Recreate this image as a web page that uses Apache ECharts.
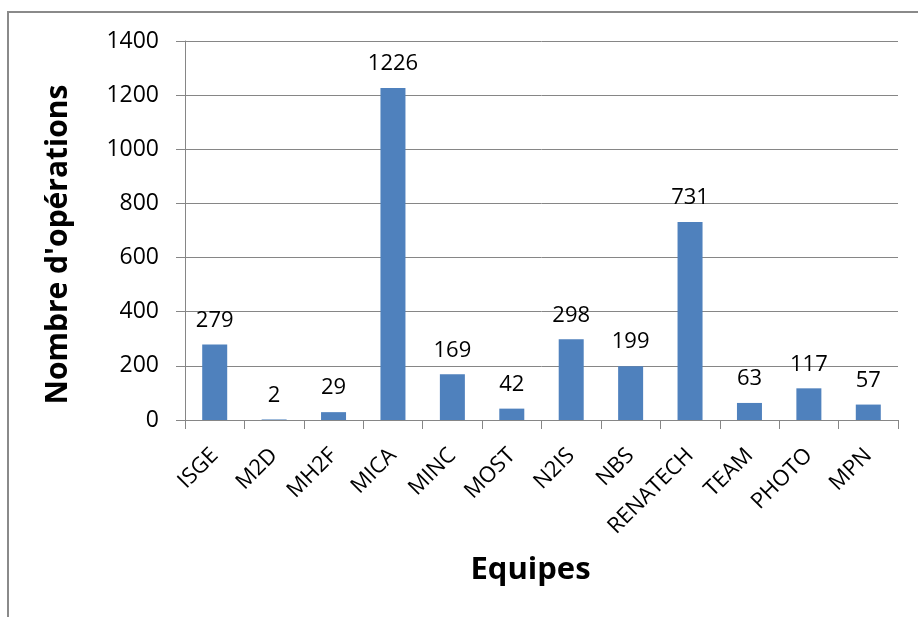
<!DOCTYPE html>
<html>
<head>
<meta charset="utf-8">
<script src="https://cdn.jsdelivr.net/npm/echarts@6/dist/echarts.min.js"></script>
<style>
html, body { margin: 0; padding: 0; background: #fff; }
#main { width: 918px; height: 617px; }
</style>
</head>
<body>
<div id="main"></div>
<script>
var equipes = ['ISGE', 'M2D', 'MH2F', 'MICA', 'MINC', 'MOST', 'N2IS', 'NBS', 'RENATECH', 'TEAM', 'PHOTO', 'MPN'];
var operations = [279, 2, 29, 1226, 169, 42, 298, 199, 731, 63, 117, 57];

var chart = echarts.init(document.getElementById('main'));
var font = 'Open Sans';

var option = {
    backgroundColor: '#fff',
    animation: false,
    grid: { left: 185, right: 20, top: 41, bottom: 197 },
    graphic: [{
        type: 'rect',
        shape: { x: 8, y: 12, width: 1000, height: 700 },
        style: { fill: 'none', stroke: '#8a8a8a', lineWidth: 2 },
        silent: true
    }],
    xAxis: {
        type: 'category',
        data: equipes,
        name: 'Equipes',
        nameLocation: 'middle',
        nameGap: 135,
        nameTextStyle: {
            fontFamily: font, fontSize: 31, fontWeight: 'bold', color: '#000',
            padding: [0, 22, 0, 0]
        },
        axisLine: { lineStyle: { color: '#868686', width: 1 } },
        axisTick: { show: true, length: 9, lineStyle: { color: '#868686' } },
        axisLabel: { rotate: 45, fontFamily: font, fontSize: 22, color: '#000', margin: 32 }
    },
    yAxis: {
        type: 'value',
        min: 0,
        max: 1400,
        interval: 200,
        name: "Nombre d'opérations",
        nameLocation: 'middle',
        nameGap: 112,
        nameTextStyle: {
            fontFamily: font, fontSize: 30, fontWeight: 'bold', color: '#000',
            padding: [0, 28, 0, 0]
        },
        axisLine: { show: true, lineStyle: { color: '#868686', width: 1 } },
        axisTick: { show: true, length: 9, lineStyle: { color: '#868686' } },
        axisLabel: {
            fontFamily: font, fontSize: 23, color: '#000', margin: 26,
            formatter: function (v) { return String(v); }
        },
        splitLine: { lineStyle: { color: '#868686', width: 1 } }
    },
    series: [{
        type: 'bar',
        data: operations,
        barWidth: 25,
        itemStyle: { color: '#4F81BD' },
        label: {
            show: true,
            position: 'top',
            distance: 13,
            fontFamily: font,
            fontSize: 22,
            color: '#000'
        }
    }]
};
chart.setOption(option);
</script>
</body>
</html>
